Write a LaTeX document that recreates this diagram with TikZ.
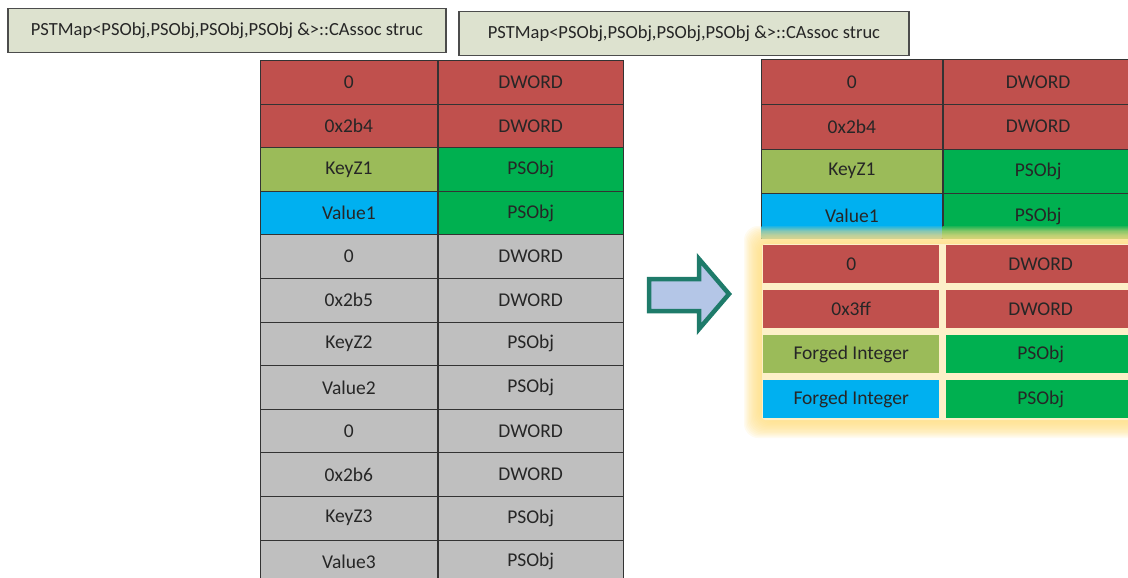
\documentclass[tikz,border=0pt]{standalone}
\usepackage{fontspec}
\setmainfont{Carlito}

\definecolor{fldred}{RGB}{192,80,77}
\definecolor{fldolive}{RGB}{155,187,89}
\definecolor{fldcyan}{RGB}{0,176,240}
\definecolor{fldgreen}{RGB}{0,176,80}
\definecolor{fldgrey}{RGB}{191,191,191}
\definecolor{hdrfill}{RGB}{221,226,207}
\definecolor{arrowline}{RGB}{30,123,106}
\definecolor{arrowfill}{RGB}{180,198,231}
\definecolor{glowyellow}{RGB}{255,222,130}
\definecolor{glowcream}{RGB}{253,240,200}

\begin{document}
\begin{tikzpicture}[x=1pt,y=-1pt,
    every node/.style={font=\fontsize{19.5}{22}\selectfont,text=black!85,inner sep=0pt},
    cell/.style={draw=black!80,line width=0.8pt,anchor=north west},
    gcell/.style={anchor=north west,minimum height=38pt},
    hdr/.style={draw=black!70,line width=1.2pt,fill=hdrfill,font=\fontsize{18.5}{22}\selectfont,minimum height=44pt}]
  \clip (0,0) rectangle (1128,578);

  % struct names
  \node[hdr,minimum width=438pt] (hl) at (227,30.5) {PSTMap<PSObj,PSObj,PSObj,PSObj \&>::CAssoc struc};
  \node[hdr,minimum width=450pt] (hr) at (684,33.5) {PSTMap<PSObj,PSObj,PSObj,PSObj \&>::CAssoc struc};

  % original layout
  \foreach \a/\b/\ca/\cb [count=\i] in {0/DWORD/fldred/fldred, 0x2b4/DWORD/fldred/fldred,
      KeyZ1/PSObj/fldolive/fldgreen, Value1/PSObj/fldcyan/fldgreen,
      0/DWORD/fldgrey/fldgrey, 0x2b5/DWORD/fldgrey/fldgrey,
      KeyZ2/PSObj/fldgrey/fldgrey, Value2/PSObj/fldgrey/fldgrey,
      0/DWORD/fldgrey/fldgrey, 0x2b6/DWORD/fldgrey/fldgrey,
      KeyZ3/PSObj/fldgrey/fldgrey, Value3/PSObj/fldgrey/fldgrey} {
    \node[cell,fill=\ca,minimum width=177pt,minimum height=43.6pt] (la\i) at (260,{60+(\i-1)*43.6}) {\a};
    \node[cell,fill=\cb,minimum width=185pt,minimum height=43.6pt] (lb\i) at (la\i.north east) {\b};
  }

  % overwritten layout
  \foreach \a/\b/\ca/\cb [count=\i] in {0/DWORD/fldred/fldred, 0x2b4/DWORD/fldred/fldred,
      KeyZ1/PSObj/fldolive/fldgreen, Value1/PSObj/fldcyan/fldgreen} {
    \node[cell,fill=\ca,minimum width=181pt,minimum height=44.75pt] (ra\i) at (761,{59+(\i-1)*44.75}) {\a};
    \node[cell,fill=\cb,minimum width=190pt,minimum height=44.75pt] (rb\i) at (ra\i.north east) {\b};
  }

  % glow
  \shade[top color=fldcyan,bottom color=fldcyan!60!glowyellow] (761.5,226.5) rectangle (941.5,238);
  \shade[top color=fldgreen,bottom color=fldgreen!60!glowyellow] (942.5,226.5) rectangle (1150,238);
  \foreach \k in {0,...,13}
    \fill[glowyellow,opacity=0.12,rounded corners=14pt] ({744+\k*1.3},{226+\k*1.3}) rectangle (1150,{438-\k*1.3});
  \fill[glowcream,rounded corners=3pt] (762,244) rectangle (1150,420);

  \foreach \a/\b/\ca/\cb [count=\i] in {0/DWORD/fldred/fldred, 0x3ff/DWORD/fldred/fldred,
      Forged Integer/PSObj/fldolive/fldgreen, Forged Integer/PSObj/fldcyan/fldgreen} {
    \node[gcell,fill=\ca,minimum width=176pt] (ga\i) at (763,{245+(\i-1)*45}) {\a};
    \node[gcell,fill=\cb,minimum width=189pt] (gb\i) at (946,{245+(\i-1)*45}) {\b};
  }

  % arrow
  \draw[arrowline,fill=arrowfill,line width=4.5pt,miter limit=20]
    (649,279) -- (699,279) -- (699,259) -- (729,294) -- (699,329) -- (699,311) -- (649,311) -- cycle;
\end{tikzpicture}
\end{document}
